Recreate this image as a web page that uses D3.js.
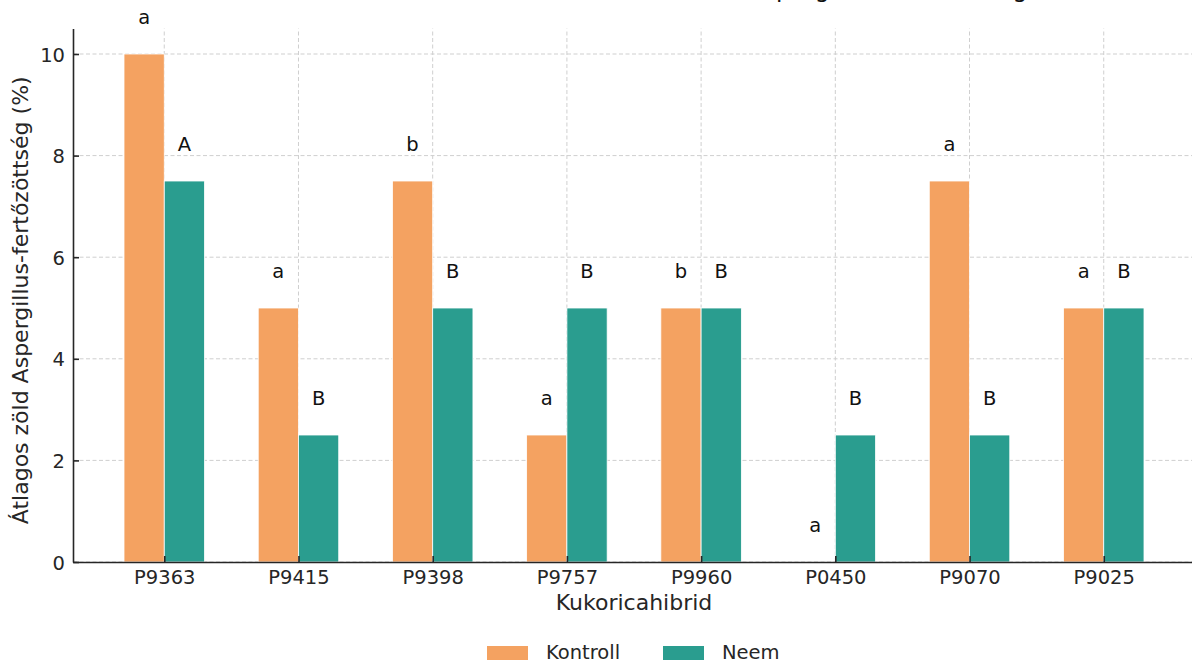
<!DOCTYPE html>
<html>
<head>
<meta charset="utf-8">
<script src="https://cdn.jsdelivr.net/npm/d3@7"></script>
<style>
  html, body { margin: 0; padding: 0; background: #fff; }
  svg { display: block; font-family: "DejaVu Sans", sans-serif; }
</style>
</head>
<body>
<svg id="chart" width="1192" height="663"></svg>
<script>
// ---- data ----
const categories = ["P9363", "P9415", "P9398", "P9757", "P9960", "P0450", "P9070", "P9025"];
const kontrollValues = [10, 5, 7.5, 2.5, 5, 0, 7.5, 5];
const neemValues = [7.5, 2.5, 5, 5, 5, 2.5, 2.5, 5];
const kontrollLetters = ["a", "a", "b", "a", "b", "a", "a", "a"];
const neemLetters = ["A", "B", "B", "B", "B", "B", "B", "B"];
const seriesNames = ["Kontroll", "Neem"];
const seriesColors = ["#F4A261", "#2A9D8F"];
const yTicks = [0, 2, 4, 6, 8, 10];
const titleText = "Kontroll és Neem kezelés hatása a zöld Aspergillus-fertőzöttség";
const xLabel = "Kukoricahibrid";
const yLabel = "Átlagos zöld Aspergillus-fertőzöttség (%)";

// ---- layout ----
const svg = d3.select("#chart");
const barW = 0.3;
const x = d3.scaleLinear().domain([-0.68, categories.length - 1 + 0.68]).range([73, 1195]);
const y = d3.scaleLinear().domain([0, 10.5]).range([562, 28.6]);
const axisColor = "#262626";
const gridColor = "#cfcfcf";

// grid
const grid = svg.append("g");
grid.selectAll("line.hg").data(yTicks).join("line")
  .attr("x1", x.range()[0]).attr("x2", x.range()[1])
  .attr("y1", d => y(d)).attr("y2", d => y(d))
  .attr("stroke", gridColor).attr("stroke-width", 1).attr("stroke-dasharray", "4,2.5");
grid.selectAll("line.vg").data(categories).join("line")
  .attr("x1", (d, i) => x(i)).attr("x2", (d, i) => x(i))
  .attr("y1", y.range()[0]).attr("y2", y.range()[1])
  .attr("stroke", gridColor).attr("stroke-width", 1).attr("stroke-dasharray", "4,2.5");

// bars
const series = [kontrollValues, neemValues];
const letters = [kontrollLetters, neemLetters];
series.forEach((vals, s) => {
  const off = s === 0 ? -barW / 2 : barW / 2;
  svg.append("g").selectAll("rect").data(vals).join("rect")
    .attr("x", (d, i) => x(i + off - barW / 2))
    .attr("width", x(barW) - x(0))
    .attr("y", d => y(d))
    .attr("height", d => y(0) - y(d))
    .attr("fill", seriesColors[s])
    .attr("stroke", "#fff").attr("stroke-width", 0.8);
  svg.append("g").selectAll("text").data(vals).join("text")
    .attr("x", (d, i) => x(i + off))
    .attr("y", d => y(d + 0.5) - 4.6)
    .attr("text-anchor", "middle")
    .attr("font-size", 19.5)
    .attr("fill", "#111")
    .text((d, i) => letters[s][i]);
});

// axes
const xAxis = d3.axisBottom(x).tickValues(d3.range(categories.length))
  .tickFormat(i => categories[i]).tickSizeInner(-6).tickSizeOuter(0).tickPadding(16);
const gx = svg.append("g").attr("transform", `translate(0,${y(0)})`).call(xAxis);
gx.select(".domain").attr("stroke", axisColor).attr("stroke-width", 1.6);
gx.selectAll(".tick line").attr("stroke", axisColor).attr("stroke-width", 1.6);
gx.selectAll(".tick text").attr("font-size", 19.5).attr("fill", axisColor)
  .attr("font-family", "DejaVu Sans").attr("dy", "0").attr("y", 22);

const yAxis = d3.axisLeft(y).tickValues(yTicks).tickSizeInner(-6).tickSizeOuter(0).tickPadding(14);
const gy = svg.append("g").attr("transform", `translate(${x.range()[0]},0)`).call(yAxis);
gy.select(".domain").attr("stroke", axisColor).attr("stroke-width", 1.6);
gy.selectAll(".tick line").attr("stroke", axisColor).attr("stroke-width", 1.6);
gy.selectAll(".tick text").attr("font-size", 19.5).attr("fill", axisColor)
  .attr("font-family", "DejaVu Sans").attr("x", -8).attr("dy", "0.36em");

// axis labels
const midX = (x.range()[0] + x.range()[1]) / 2;
svg.append("text").attr("x", midX).attr("y", 610).attr("text-anchor", "middle")
  .attr("font-size", 22).attr("fill", axisColor).text(xLabel);
svg.append("text").attr("transform", `translate(28,${(y.range()[0] + y.range()[1]) / 2 + 5}) rotate(-90)`)
  .attr("text-anchor", "middle").attr("font-size", 22).attr("fill", axisColor).text(yLabel);

// title (cropped above the top edge; only descenders show, as in the reference)
const title = svg.append("text").attr("x", 0).attr("y", -3.5).attr("text-anchor", "start")
  .attr("font-size", 23.5).attr("fill", "#111").text(titleText);
try {
  const pIdx = titleText.indexOf("Asp") + 2;
  const px = title.node().getStartPositionOfChar(pIdx).x;
  title.attr("x", 776 - px);
} catch (e) {
  title.attr("x", midX).attr("text-anchor", "middle");
}

// legend
const legend = svg.append("g");
const legendX = d3.scalePoint().domain(seriesNames).range([487, 663]);
seriesNames.forEach((name, s) => {
  const gx0 = legendX(name);
  legend.append("rect").attr("x", gx0).attr("y", 646).attr("width", 41).attr("height", 14)
    .attr("fill", seriesColors[s]);
  legend.append("text").attr("x", gx0 + 59).attr("y", 659).attr("font-size", 19.5)
    .attr("fill", axisColor).text(name);
});
</script>
</body>
</html>
